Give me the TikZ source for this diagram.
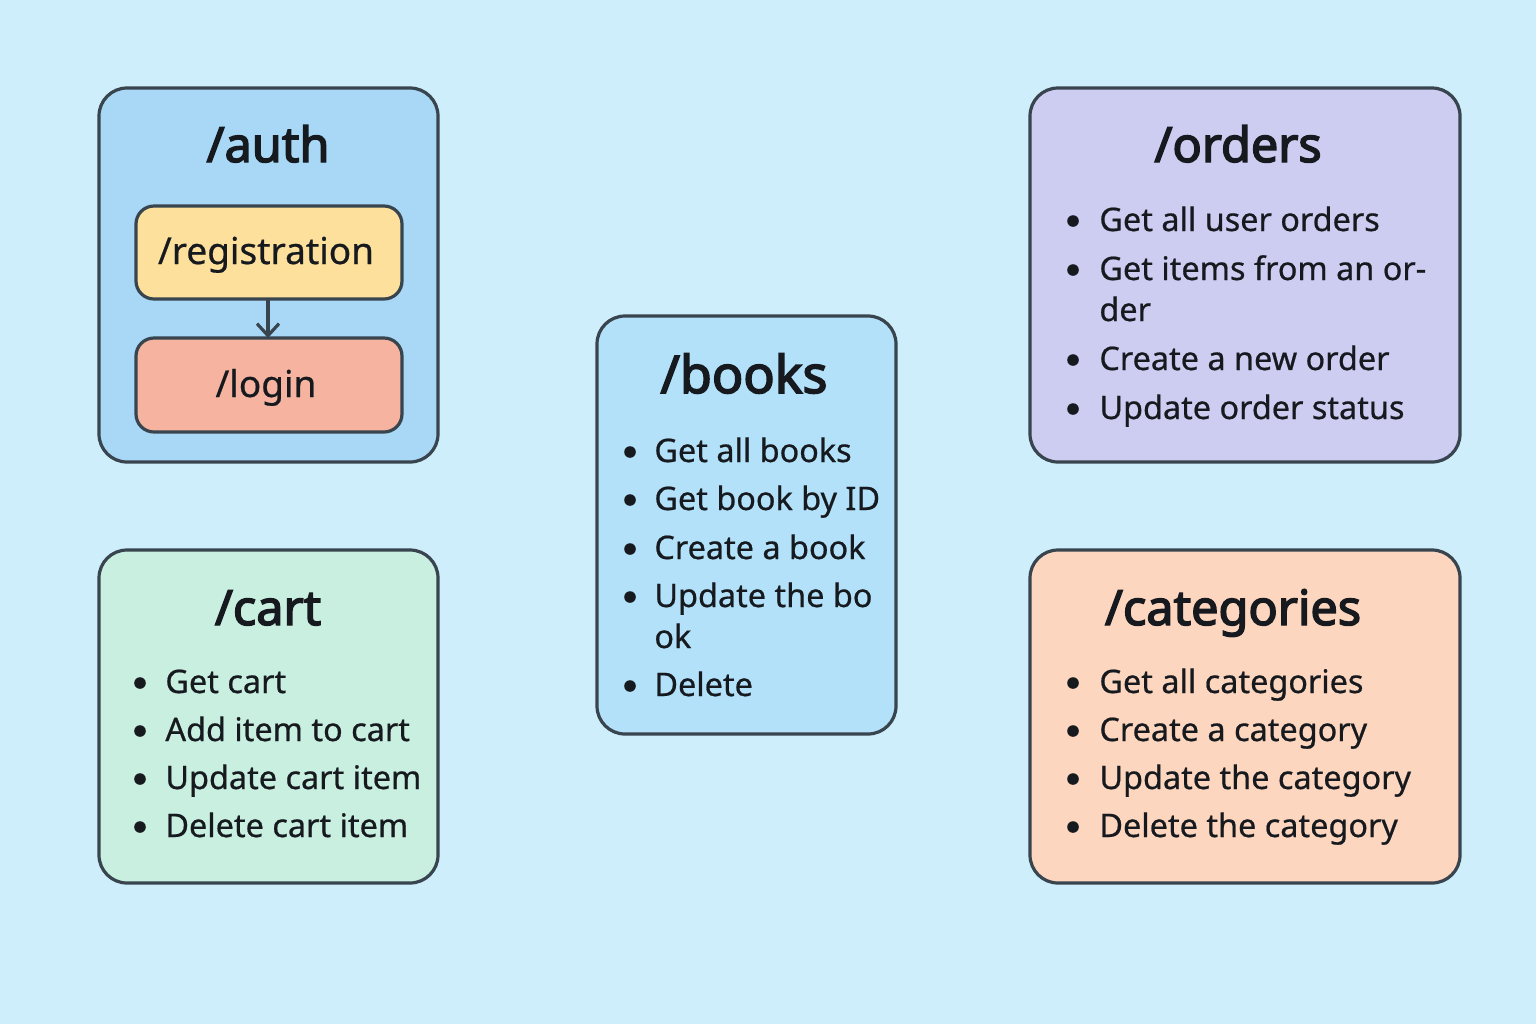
\documentclass[tikz,border=0pt]{standalone}
\usepackage{fontspec}
\setmainfont{Noto Sans}
\newfontfamily\titlefont[FakeBold=3]{Noto Sans}
\newfontfamily\itemfont[FakeBold=0.6]{Noto Sans}
\usetikzlibrary{arrows.meta}
\definecolor{bg}{HTML}{CFEEFC}
\definecolor{edge}{HTML}{38444E}
\definecolor{ink}{HTML}{161A1F}
\definecolor{authfill}{HTML}{A8D8F6}
\definecolor{regfill}{HTML}{FCE09C}
\definecolor{loginfill}{HTML}{F5B3A0}
\definecolor{booksfill}{HTML}{B2E1F9}
\definecolor{ordersfill}{HTML}{CDCCF1}
\definecolor{cartfill}{HTML}{C8EFDF}
\definecolor{catfill}{HTML}{FDD6BF}
\tikzset{
  panel/.style={draw=edge, line width=1.6pt, rounded corners=14pt},
  subpanel/.style={draw=edge, line width=1.6pt, rounded corners=9pt},
  title/.style={font=\titlefont\fontsize{24.3}{28}\selectfont, text=ink, anchor=base, inner sep=0pt},
  sub/.style={font=\itemfont\fontsize{18.5}{22}\selectfont, text=ink, anchor=base, inner sep=0pt},
  item/.style={font=\itemfont\fontsize{16.2}{19}\selectfont, text=ink, anchor=base west, inner sep=0pt},
  dot/.style={circle, fill=ink, inner sep=0pt, minimum size=5.8pt},
  link/.style={draw=edge, line width=1.6pt, -{Straight Barb[length=6pt,width=11pt,line width=1.6pt]}}
}
\begin{document}
\begin{tikzpicture}[x=0.5pt,y=-0.5pt]
\fill[bg] (0,0) rectangle (1536,1024);
\useasboundingbox (0,0) rectangle (1536,1024);

% auth
\draw[panel, fill=authfill] (99,88) rectangle (438,462);
\node[title] (authT) at (268,162) {/auth};
\draw[subpanel, fill=regfill] (136,206) rectangle (402,299);
\coordinate (regB) at (268,299);
\node[sub] (reg) at (266,264) {/registration};
\draw[subpanel, fill=loginfill] (136,338) rectangle (402,432);
\coordinate (logT) at (268,338);
\node[sub] (login) at (266,397) {/login};
\draw[link] (regB) -- (logT);

% books
\draw[panel, fill=booksfill] (597,316) rectangle (896,734);
\node[title, font=\titlefont\fontsize{26}{30}\selectfont] (booksT) at (744,393) {/books};
\foreach \t/\y/\b in {Get all books/451/1, Get book by ID/499/1, Create a book/548/1, Update the bo/596/1, ok/637/0, Delete/685/1}{
  \node[item] at (654,\y+11) {\t};
  \ifnum\b=1 \node[dot] at (630,\y+1) {};\fi
}

% orders
\draw[panel, fill=ordersfill] (1030,88) rectangle (1460,462);
\node[title] (ordersT) at (1238,162) {/orders};
\foreach \t/\y/\b in {Get all user orders/220/1, Get items from an or-/269/1, der/310/0, Create a new order/359/1, Update order status/408/1}{
  \node[item] at (1099,\y+11) {\t};
  \ifnum\b=1 \node[dot] at (1073,\y+1) {};\fi
}

% cart
\draw[panel, fill=cartfill] (99,550) rectangle (438,883);
\node[title] (cartT) at (268,625) {/cart};
\foreach \t/\y in {Get cart/682, Add item to cart/730, Update cart item/778, Delete cart item/826}{
  \node[item] at (165,\y+11) {\t};
  \node[dot] at (140,\y+1) {};
}

% categories
\draw[panel, fill=catfill] (1030,550) rectangle (1460,883);
\node[title] (catT) at (1233,625) {/categories};
\foreach \t/\y in {Get all categories/682, Create a category/730, Update the category/778, Delete the category/826}{
  \node[item] at (1099,\y+11) {\t};
  \node[dot] at (1073,\y+1) {};
}
\end{tikzpicture}
\end{document}
